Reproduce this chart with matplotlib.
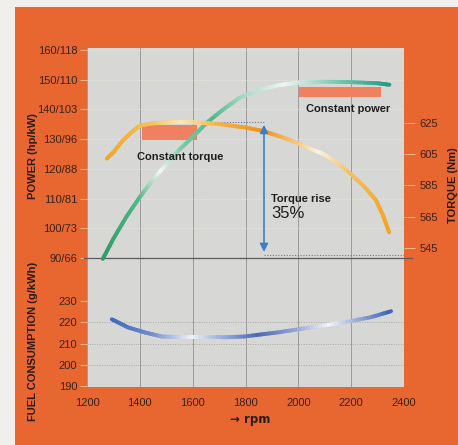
import numpy as np
import matplotlib
matplotlib.use("Agg")
import matplotlib.pyplot as plt
from matplotlib.collections import LineCollection
from matplotlib.patches import Rectangle
from matplotlib import font_manager
from matplotlib.colors import to_rgb

# ---------------- data ----------------
rpm_ticks = [1200, 1400, 1600, 1800, 2000, 2200, 2400]
power_ticks = [90, 100, 110, 120, 130, 140, 150, 160]
power_labels = ["90/66", "100/73", "110/81", "120/88", "130/96", "140/103", "150/110", "160/118"]
fuel_ticks = [190, 200, 210, 220, 230]
torque_ticks = [545, 565, 585, 605, 625]

power_rpm = [1260, 1300, 1350, 1400, 1449, 1500, 1550, 1600, 1653, 1713, 1777, 1853, 1928, 2000, 2100, 2200, 2300, 2345]
power_hp = [89.7, 96.5, 104, 110.5, 116.3, 121.5, 126.5, 130.7, 135.5, 139.8, 143.9, 146.6, 148.2, 149.0, 149.3, 149.2, 148.8, 148.3]

torque_rpm = [1275, 1300, 1336, 1370, 1400, 1450, 1500, 1550, 1600, 1700, 1800, 1870, 1966, 2050, 2100, 2150, 2200, 2250, 2294, 2320, 2344]
torque_nm = [602, 606, 613.6, 619, 623, 624.5, 625, 625.3, 625.2, 624, 621.8, 619.5, 614, 608, 604.5, 599, 592, 584, 575.5, 566, 555]

fuel_rpm = [1294, 1355, 1419, 1483, 1581, 1710, 1796, 1921, 2049, 2174, 2276, 2351]
fuel_gkwh = [221.4, 217.6, 215.2, 213.3, 212.9, 212.9, 213.3, 215.2, 217.6, 220.0, 222.4, 225.2]

const_torque_rpm = (1408, 1615)
const_torque_hp = (129.7, 134.8)
const_power_rpm = (2004, 2313)
const_power_hp = (144.3, 147.7)

rise_rpm = 1870
rise_top = 623.5
rise_bottom = 542.5
rise_top_line = 625.5
rise_bottom_line = 540.5
rise_top_start = 1665

# ---------------- fonts ----------------
names = {f.name for f in font_manager.fontManager.ttflist}
main_font = "Liberation Sans Narrow" if "Liberation Sans Narrow" in names else "Liberation Sans"
plt.rcParams["font.family"] = [main_font, "DejaVu Sans"]

ORANGE = "#e8662f"
GREY = "#d7d7d5"
TXT = "#3a2218"

fig = plt.figure(figsize=(4.58, 4.45), dpi=100)
fig.patch.set_facecolor("#f1efeb")
bg = Rectangle((15 / 458, 0), 1, 1 - 7 / 445, transform=fig.transFigure,
               facecolor=ORANGE, edgecolor="none", zorder=-10)
fig.patches.append(bg)

pos = [87 / 458, 1 - 387 / 445, (404 - 87) / 458, (387 - 48) / 445]
ax = fig.add_axes(pos)            # fuel axis
ax.set_facecolor(GREY)
ax.set_xlim(1200, 2400)
ax.set_ylim(189.53, 349.06)
axp = ax.twinx()                  # power axis
axp.set_ylim(46.58, 160.67)
axt = ax.twinx()                  # torque axis
axt.set_ylim(456.4, 672.5)

for a in (ax, axp, axt):
    for s in a.spines.values():
        s.set_visible(False)

# grid
for r in rpm_ticks:
    ax.axvline(r, color="#9c9c9c", lw=0.7, zorder=1)
for f in fuel_ticks[1:4]:
    ax.axhline(f, color="#a8a8a8", lw=0.7, ls=(0, (1, 1.5)), zorder=1)
for p in power_ticks[1:]:
    axp.axhline(p, color="#eeeae0", lw=0.6, ls=(0, (1, 1.5)), zorder=1)
axp.plot([1190, 2430], [90, 90], color="#5a5a5a", lw=0.9, clip_on=False, zorder=2)

# ticks
ax.set_xticks(rpm_ticks)
ax.set_xticklabels([str(r) for r in rpm_ticks])
ax.tick_params(axis="x", length=0, pad=8, labelsize=8, labelcolor=TXT)
ax.set_yticks(fuel_ticks)
ax.tick_params(axis="y", direction="out", length=5, width=0.7, color="#f4b884",
               pad=2, labelsize=8, labelcolor=TXT)
axp.yaxis.tick_left()
axp.set_yticks(power_ticks)
axp.set_yticklabels(power_labels)
axp.tick_params(axis="y", direction="out", length=5, width=0.7, color="#f4b884",
                pad=2, labelsize=8, labelcolor=TXT)
axt.set_yticks(torque_ticks)
axt.tick_params(axis="y", direction="out", length=8, width=0.7, color="#f4b884",
                pad=3, labelsize=8, labelcolor=TXT)


def gradient_line(a, x, y, stops, lw=2.8, z=4):
    xs, ys = [], []
    for i in range(len(x) - 1):
        t = np.linspace(0, 1, 8, endpoint=False)
        xs.extend(x[i] + (x[i + 1] - x[i]) * t)
        ys.extend(y[i] + (y[i + 1] - y[i]) * t)
    xs.append(x[-1]); ys.append(y[-1])
    xs = np.array(xs); ys = np.array(ys)
    pts = np.column_stack([xs, ys]).reshape(-1, 1, 2)
    segs = np.concatenate([pts[:-1], pts[1:]], axis=1)
    mid = (xs[:-1] + xs[1:]) / 2
    sr = [s[0] for s in stops]
    rgb = np.array([to_rgb(s[1]) for s in stops])
    cols = np.column_stack([np.interp(mid, sr, rgb[:, k]) for k in range(3)])
    lc = LineCollection(segs, colors=cols, linewidths=lw, capstyle="round", zorder=z)
    a.add_collection(lc)


gradient_line(axp, power_rpm, power_hp,
              [(1260, "#2f9a66"), (1400, "#55b888"), (1480, "#f4f8f6"), (1560, "#7ccaa4"),
               (1680, "#52b88e"), (1800, "#a8dcc8"), (1950, "#eef6f2"), (2150, "#7cc8b0"),
               (2345, "#229c86")])
gradient_line(axt, torque_rpm, torque_nm,
              [(1275, "#f2a52a"), (1450, "#f6c25a"), (1560, "#fbe9b8"), (1700, "#f5b540"),
               (1870, "#f0901c"), (2000, "#f8c878"), (2080, "#fbf3e6"), (2200, "#f6c060"),
               (2344, "#f2a526")])
gradient_line(ax, fuel_rpm, fuel_gkwh,
              [(1294, "#3f68bc"), (1450, "#6f8ccc"), (1600, "#f1f2f6"), (1700, "#a8b6dc"),
               (1850, "#4868b8"), (2000, "#9aa8d6"), (2120, "#f3f4f8"), (2250, "#8a9ed2"),
               (2351, "#3e63b8")])

# constant patches
axp.add_patch(Rectangle((const_torque_rpm[0], const_torque_hp[0]),
                        const_torque_rpm[1] - const_torque_rpm[0],
                        const_torque_hp[1] - const_torque_hp[0],
                        facecolor="#ef8060", edgecolor="none", zorder=3))
axp.add_patch(Rectangle((const_power_rpm[0], const_power_hp[0]),
                        const_power_rpm[1] - const_power_rpm[0],
                        const_power_hp[1] - const_power_hp[0],
                        facecolor="#ef8060", edgecolor="none", zorder=3))
axp.text(1389, 124, "Constant torque", fontsize=8, color="#1e1e1e", weight="bold",
         va="center", ha="left", zorder=6)
axp.text(2030, 140.2, "Constant power", fontsize=8, color="#1e1e1e", weight="bold",
         va="center", ha="left", zorder=6)

# torque rise
axt.annotate("", xy=(rise_rpm, rise_top), xytext=(rise_rpm, rise_bottom),
             arrowprops=dict(arrowstyle="<|-|>", color="#3c7fc6", lw=1.2,
                             mutation_scale=12, shrinkA=0, shrinkB=0), zorder=5)
axt.plot([rise_top_start, rise_rpm], [rise_top_line, rise_top_line], color="#6a7090",
         lw=0.8, ls=(0, (1, 1.5)), zorder=3)
axt.plot([rise_rpm, 2400], [rise_bottom_line, rise_bottom_line], color="#5a7ab8",
         lw=0.8, ls=(0, (1, 1.5)), zorder=3)
axt.text(1898, 576.2, "Torque rise", fontsize=8, color="#1e1e1e", weight="bold",
         va="center", ha="left", zorder=6)
axt.text(1898, 567.3, "35%", fontsize=12, color="#1e1e1e", va="center", ha="left", zorder=6)

# axis titles
fig.text(33 / 458, 1 - 156 / 445, "POWER (hp/kW)", rotation=90, ha="center", va="center",
         fontsize=8, weight="bold", color="#2a1a14")
fig.text(33 / 458, 1 - 341 / 445, "FUEL CONSUMPTION (g/kWh)", rotation=90, ha="center",
         va="center", fontsize=8, weight="bold", color="#2a1a14")
fig.text(453 / 458, 1 - 185 / 445, "TORQUE (Nm)", rotation=90, ha="center", va="center",
         fontsize=8, weight="bold", color="#2a1a14")
fig.text(250 / 458, 1 - 419 / 445, "\u2192 rpm", ha="center", va="center",
         fontsize=8.5, weight="bold", color="#2a1a14", family=["DejaVu Sans"])

fig.savefig("out.png", dpi=100, facecolor=fig.get_facecolor())
